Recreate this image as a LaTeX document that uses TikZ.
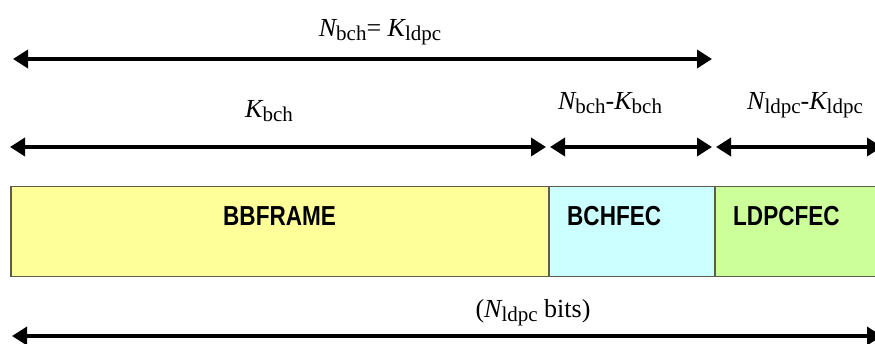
\documentclass[tikz,border=0pt]{standalone}
\usepackage{fontspec}
\setmainfont{Liberation Serif}
\newfontfamily\boxfont{Liberation Sans}
\usetikzlibrary{arrows.meta}
\definecolor{bbyellow}{HTML}{FFFF99}
\definecolor{bchcyan}{HTML}{CCFFFF}
\definecolor{ldpcgreen}{HTML}{CCFF99}
\definecolor{segborder}{HTML}{5E5E48}
\newcommand{\lbl}[2]{{\itshape #1}\raisebox{-4pt}{\fontsize{21pt}{21pt}\selectfont #2}}
\tikzset{
  seg/.style={draw=segborder, line width=1.5pt, inner sep=0pt, anchor=north west, minimum height=90pt},
  boxtxt/.style={inner sep=0pt, anchor=base west, font=\boxfont\bfseries\fontsize{27.5pt}{28pt}\selectfont},
  dimtxt/.style={inner sep=0pt, anchor=base, font=\fontsize{26pt}{27pt}\selectfont},
  dim/.style={line width=3.5pt, {Triangle[length=15pt,width=18pt]}-{Triangle[length=15pt,width=18pt]}}
}
\begin{document}
\begin{tikzpicture}[x=1pt,y=-1pt]
\useasboundingbox (0,0) rectangle (875,344);
\clip (0,0) rectangle (875,344);
% segments
\node[seg, fill=bbyellow, minimum width=538pt] (bb) at (10,186) {};
\node[seg, fill=bchcyan, minimum width=166pt] (bch) at (548,186) {};
\node[seg, fill=ldpcgreen, minimum width=190pt] (ldpc) at (714,186) {};
\node[boxtxt] (tbb) at (223,226) {\scalebox{0.82}[1]{BBFRAME}};
\node[boxtxt] (tbch) at (567,226) {\scalebox{0.82}[1]{BCHFEC}};
\node[boxtxt] (tldpc) at (733,226) {\scalebox{0.82}[1]{LDPCFEC}};
% dimension arrows
\coordinate (a1) at (13,59);  \coordinate (a2) at (712,59);
\coordinate (b1) at (10,147); \coordinate (b2) at (546,147);
\coordinate (c1) at (550,147); \coordinate (c2) at (712,147);
\coordinate (d1) at (716,147); \coordinate (d2) at (882,147);
\coordinate (e1) at (12,336); \coordinate (e2) at (882,336);
\draw[dim] (a1) -- (a2);
\draw[dim] (b1) -- (b2);
\draw[dim] (c1) -- (c2);
\draw[dim] (d1) -- (d2);
\draw[dim] (e1) -- (e2);
% labels
\node[dimtxt] (lnk) at (380,37) {\lbl{N}{bch}= \lbl{K}{ldpc}};
\node[dimtxt] (lkb) at (269,118) {\lbl{K}{bch}};
\node[dimtxt] (lnkb) at (610,110) {\lbl{N}{bch}-\lbl{K}{bch}};
\node[dimtxt] (lnkl) at (805,110) {\lbl{N}{ldpc}-\lbl{K}{ldpc}};
\node[dimtxt] (lbits) at (533,318) {(\lbl{N}{ldpc} bits)};
\end{tikzpicture}
\end{document}
